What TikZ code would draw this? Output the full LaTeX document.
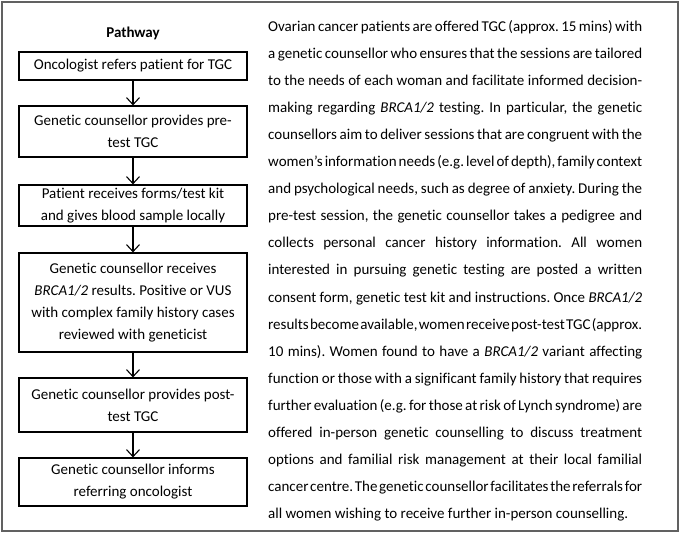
\documentclass[tikz,border=0pt]{standalone}
\usepackage{fontspec}
\setmainfont{Carlito}[Ligatures={NoCommon,NoContextual}]
\usetikzlibrary{arrows.meta}
\newlength\parW
\setlength\parW{374bp}
\newcommand\jl[1]{\hbox to \parW{#1}}
\begin{document}
\frenchspacing
\begin{tikzpicture}[x=1bp,y=-1bp,
  stepbox/.style={draw=black, line width=1.2bp, minimum width=228bp, inner sep=0pt,
    align=center, font=\fontsize{15bp}{22bp}\selectfont},
  arr/.style={line width=1.1bp, -{Straight Barb[length=7bp,width=13bp,line width=1.1bp]}}]
\useasboundingbox (0,0) rectangle (681,534);
\draw[black!62, line width=1.3bp] (2,2) rectangle (678,531);
\node[font=\fontsize{15bp}{18bp}\selectfont\bfseries] (title) at (133,33) {Pathway};
\node[stepbox, minimum height=28bp] (b1) at (133,66) {Oncologist refers patient for TGC};
\node[stepbox, minimum height=51bp] (b2) at (133,131.5) {Genetic counsellor provides pre-\\test TGC};
\node[stepbox, minimum height=41bp] (b3) at (133,205.5) {Patient receives forms/test kit\\and gives blood sample locally};
\node[stepbox, minimum height=99bp] (b4) at (133,302.5) {Genetic counsellor receives\\\textit{BRCA1/2} results. Positive or VUS\\with complex family history cases\\reviewed with geneticist};
\node[stepbox, minimum height=54bp] (b5) at (133,405) {Genetic counsellor provides post-\\test TGC};
\node[stepbox, minimum height=48bp] (b6) at (133,482) {Genetic counsellor informs\\referring oncologist};
\draw[arr] (b1) -- (b2);
\draw[arr] (b2) -- (b3);
\draw[arr] (b3) -- (b4);
\draw[arr] (b4) -- (b5);
\draw[arr] (b5) -- (b6);
\node[anchor=base west, inner sep=0pt, font=\fontsize{15bp}{27.05bp}\selectfont] (para) at (268,31.5) {\vtop{\hsize=\parW \baselineskip=27.05bp \lineskiplimit=-20bp
\spaceskip=\fontdimen2\font plus 0.6em minus 0.2em \hbadness=10000 \hfuzz=30bp
\jl{Ovarian cancer patients are offered TGC (approx. 15 mins) with}
\jl{a genetic counsellor who ensures that the sessions are tailored}
\jl{to the needs of each woman and facilitate informed decision-}
\jl{making regarding \textit{BRCA1/2} testing. In particular, the genetic}
\jl{counsellors aim to deliver sessions that are congruent with the}
\jl{women’s information needs (e.g. level of depth), family context}
\jl{and psychological needs, such as degree of anxiety. During the}
\jl{pre-test session, the genetic counsellor takes a pedigree and}
\jl{collects personal cancer history information. All women}
\jl{interested in pursuing genetic testing are posted a written}
\jl{consent form, genetic test kit and instructions. Once \textit{BRCA1/2}}
\jl{results become available, women receive post-test TGC (approx.}
\jl{10 mins). Women found to have a \textit{BRCA1/2} variant affecting}
\jl{function or those with a significant family history that requires}
\jl{further evaluation (e.g. for those at risk of Lynch syndrome) are}
\jl{offered in-person genetic counselling to discuss treatment}
\jl{options and familial risk management at their local familial}
\jl{cancer centre. The genetic counsellor facilitates the referrals for}
\spaceskip=\fontdimen2\font
\hbox{all women wishing to receive further in-person counselling.}}};
\end{tikzpicture}
\end{document}
